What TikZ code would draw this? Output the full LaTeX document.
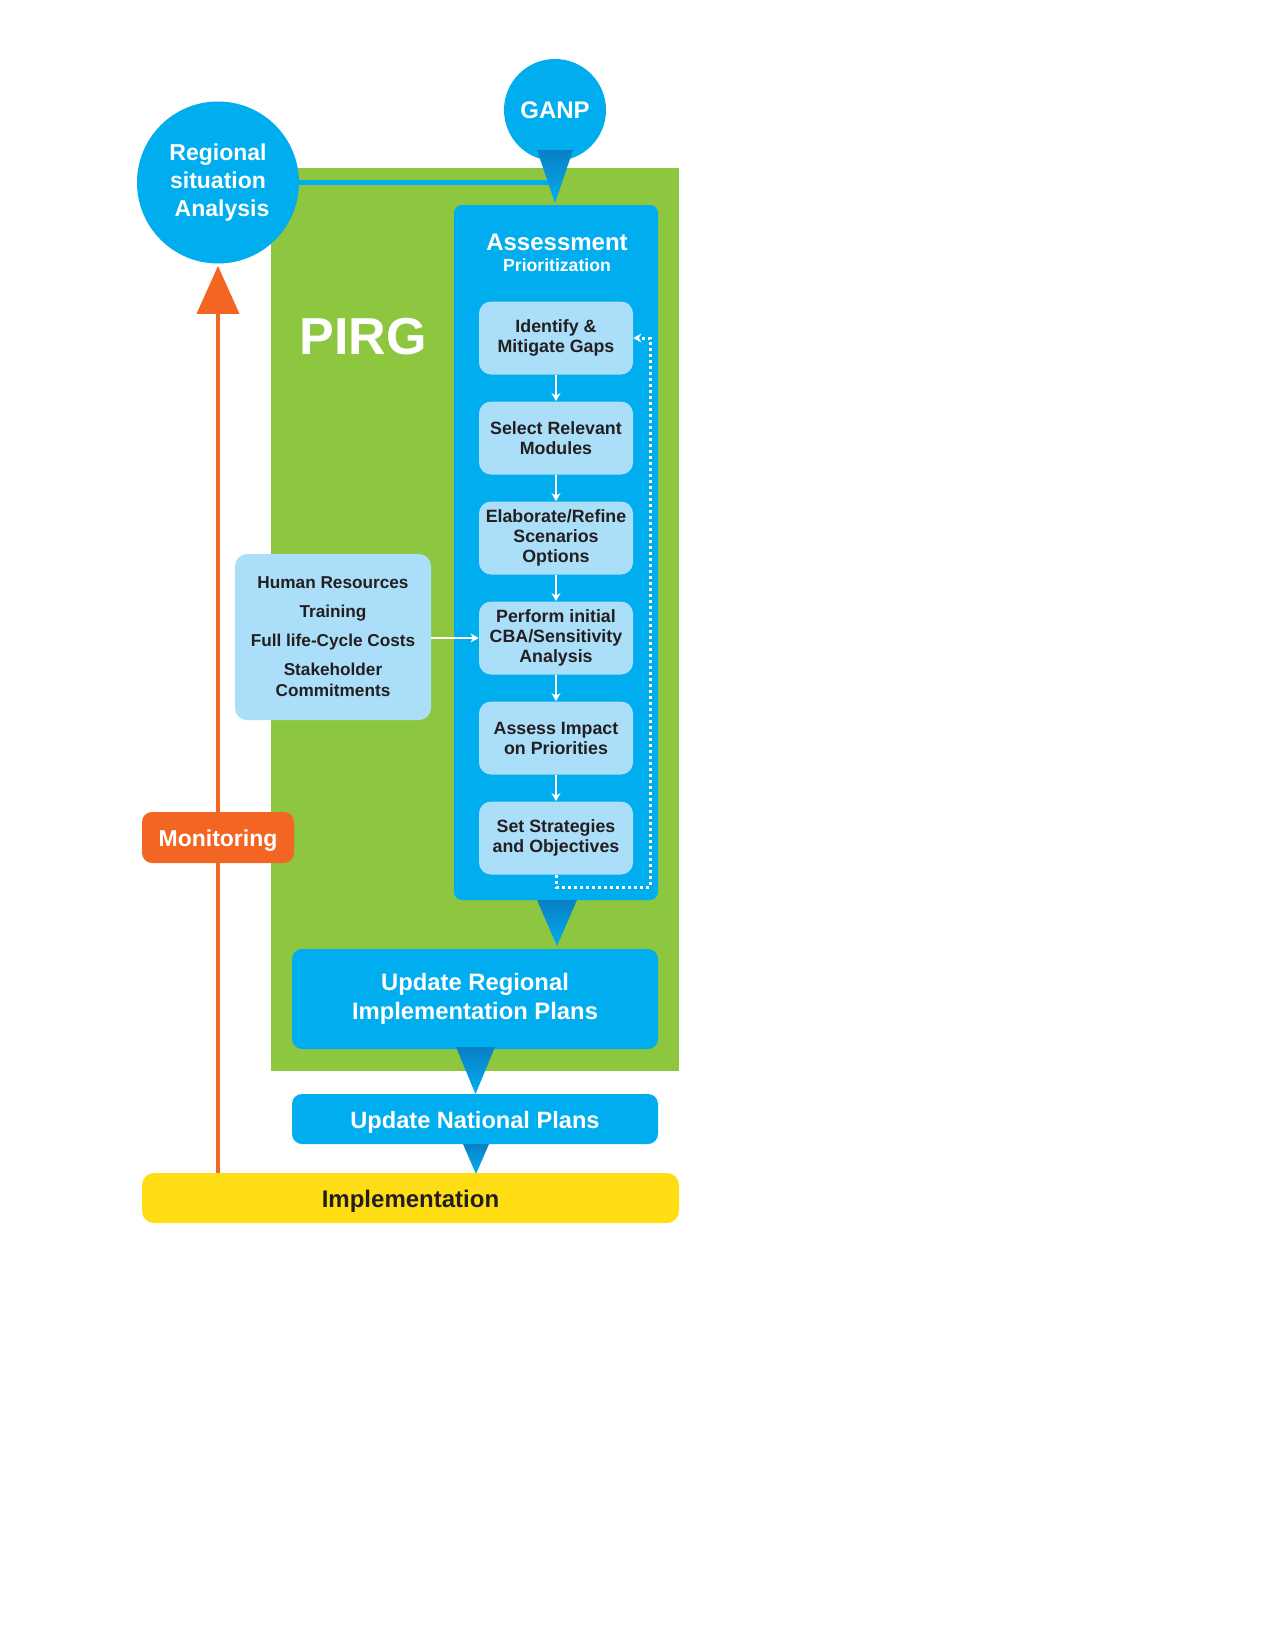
\documentclass[tikz,border=0pt]{standalone}
\usepackage{fontspec}
\setmainfont{Liberation Sans}
\usetikzlibrary{arrows.meta}
\definecolor{cyanb}{HTML}{00AEEF}
\definecolor{lightb}{HTML}{ABDEF8}
\definecolor{greenb}{HTML}{8DC63F}
\definecolor{orangeb}{HTML}{F26522}
\definecolor{yellowb}{HTML}{FFDD15}
\definecolor{darkt}{HTML}{231F20}
\definecolor{deepb}{HTML}{0A7FC4}
\newcommand{\fsz}[2]{\fontsize{#1}{#2}\selectfont}
\tikzset{
  stepbox/.style={fill=lightb, rounded corners=6pt, minimum width=77pt, minimum height=36.5pt,
    align=center, text=darkt, font=\bfseries\fsz{8.9}{10}, inner sep=1pt},
  bluebox/.style={fill=cyanb, rounded corners=5pt, align=center, text=white, inner sep=1pt},
  oneline/.style={text height=0.95em, text depth=0.05em},
  smallarr/.style={draw=white, line width=1pt, -{Stealth[length=4pt,width=4.5pt]}},
  ptr/.style={top color=deepb, bottom color=cyanb, draw=none},
}
\begin{document}
\begin{tikzpicture}[x=0.5pt,y=-0.5pt]
\useasboundingbox (0,0) rectangle (1275,1650);
% PIRG background
\node[fill=greenb, minimum width=204pt, minimum height=451.5pt, inner sep=0pt] (pirgbg) at (475,619.5) {};
\node[text=white, font=\bfseries\fsz{26}{30}] (pirg) at (363,337) {PIRG};
% regional circle
\node[circle, fill=cyanb, minimum size=81pt, inner sep=0pt, align=center, text=white,
  font=\bfseries\fsz{11.5}{13.8}] (reg) at (218,182.5) {Regional\\situation\\\hspace*{4pt}Analysis};
% GANP
\node[circle, fill=cyanb, minimum size=51pt, inner sep=0pt, text=white, font=\bfseries\fsz{12}{14}] (ganp) at (555,110) {GANP};
\draw[cyanb, line width=2.5pt] (reg.east) -- (ganp.center |- reg.east);
\shade[ptr] (537,150) -- (573,150) -- (555,203) -- cycle;
% assessment box
\node[fill=cyanb, rounded corners=4pt, minimum width=102pt, minimum height=347.5pt, inner sep=0pt] (assess) at (556,552.5) {};
\node[text=white, font=\bfseries\fsz{12}{14}] (asst) at (557,242) {Assessment};
\node[text=white, font=\bfseries\fsz{8.8}{10}] (prio) at (557,265) {Prioritization};
% steps
\node[stepbox] (b1) at (556,338) {Identify \&\\Mitigate Gaps};
\node[stepbox] (b2) at (556,438) {Select Relevant\\Modules};
\node[stepbox] (b3) at (556,538) {Elaborate/Refine\\Scenarios\\Options};
\node[stepbox] (b4) at (556,638) {Perform initial\\CBA/Sensitivity\\Analysis};
\node[stepbox] (b5) at (556,738) {Assess Impact\\on Priorities};
\node[stepbox] (b6) at (556,838) {Set Strategies\\and Objectives};
\draw[smallarr] (b1) -- (b2);
\draw[smallarr] (b2) -- (b3);
\draw[smallarr] (b3) -- (b4);
\draw[smallarr] (b4) -- (b5);
\draw[smallarr] (b5) -- (b6);
\coordinate (lc) at (650,887);
\draw[white, line width=1.5pt, dash pattern=on 1.5pt off 1.5pt, -{Stealth[length=4pt,width=4.5pt]}]
  (b6.south) |- (lc) |- (b1.east);
% human resources
\node[fill=lightb, rounded corners=6pt, minimum width=98pt, minimum height=83pt, align=center,
  text=darkt, font=\bfseries\fsz{8.6}{10.5}, inner sep=1pt] (hr) at (333,637)
  {Human Resources\\[4pt]Training\\[4pt]Full life-Cycle Costs\\[4pt]Stakeholder\\Commitments};
\draw[smallarr] (hr.east |- b4.west) -- (b4.west);
% update regional
\shade[ptr] (537,900) -- (577,900) -- (557,946) -- cycle;
\node[bluebox, minimum width=183pt, minimum height=50pt, font=\bfseries\fsz{11.9}{14.5}] (urip) at (475,999)
  {Update Regional\\Implementation Plans};
\shade[ptr] (456,1047) -- (495,1047) -- (475.5,1094) -- cycle;
\node[bluebox, oneline, minimum width=183pt, minimum height=25pt, font=\bfseries\fsz{11.8}{14}] (unp) at (475,1119)
  {Update National Plans};
\shade[ptr] (463,1144) -- (489,1144) -- (476,1174) -- cycle;
% implementation
\node[fill=yellowb, oneline, rounded corners=6pt, minimum width=268.5pt, minimum height=25pt, text=darkt,
  font=\bfseries\fsz{12}{13}, inner sep=0pt] (impl) at (410.5,1198) {Implementation};
% monitoring feedback
\draw[orangeb, line width=2pt, -{Triangle[length=24pt,width=21pt]}] (impl.north -| reg.south) -- ([yshift=-1pt]reg.south);
\node[fill=orangeb, oneline, rounded corners=5pt, minimum width=76pt, minimum height=25.5pt, text=white,
  font=\bfseries\fsz{11.5}{14}, inner sep=0pt] (mon) at (218,837.5) {Monitoring};
\end{tikzpicture}
\end{document}
